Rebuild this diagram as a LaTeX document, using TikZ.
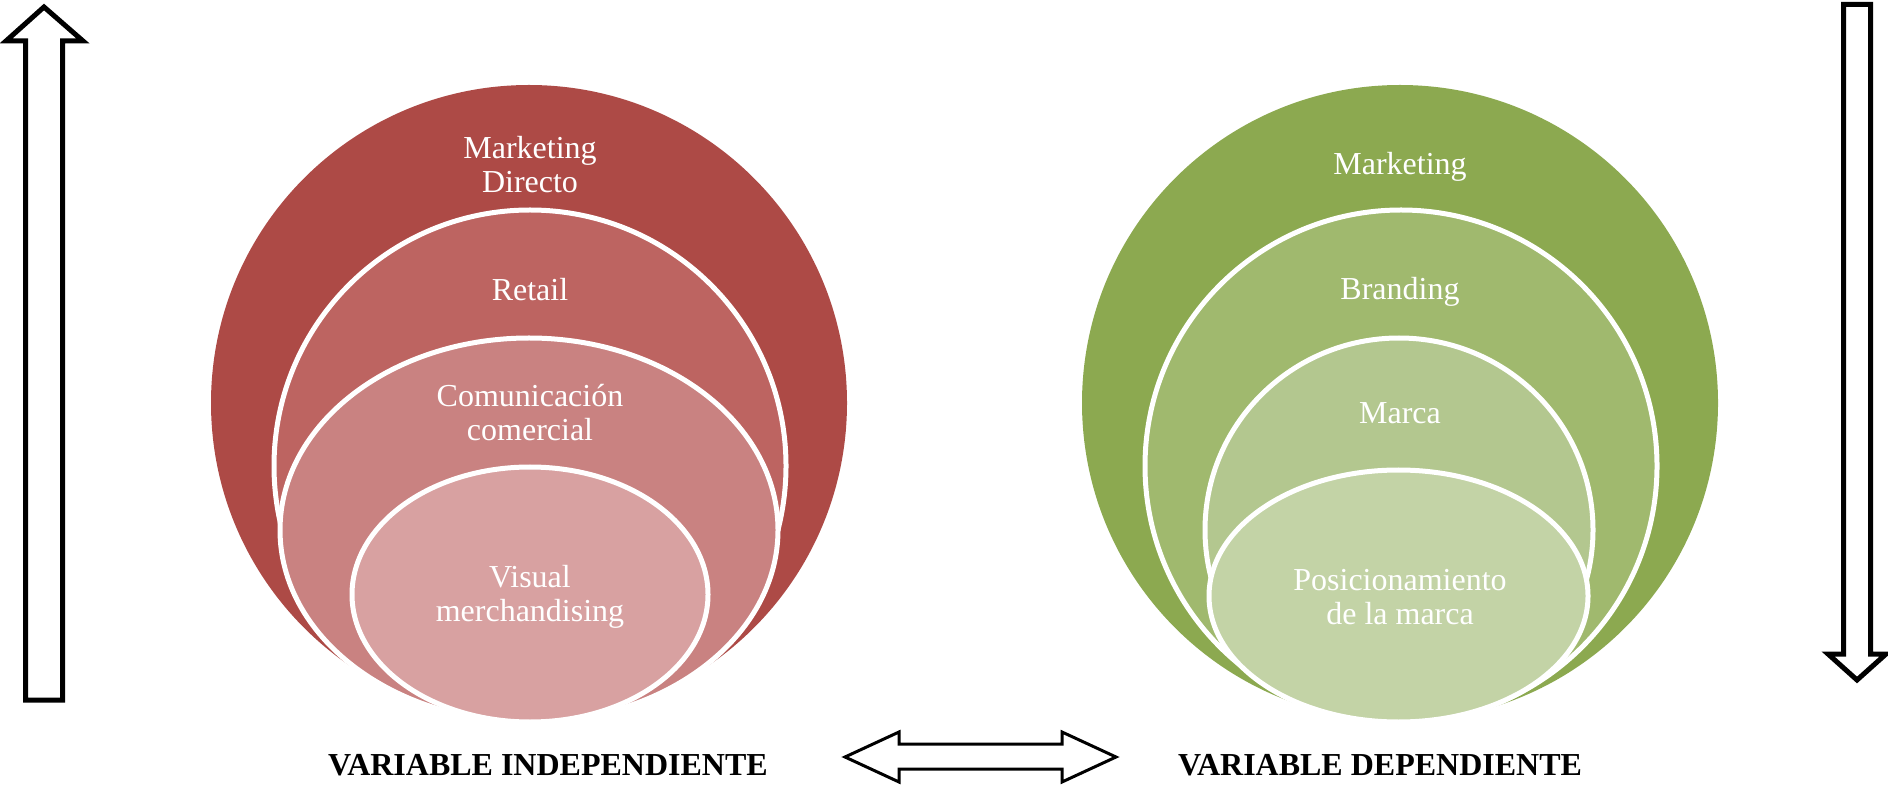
\documentclass[tikz,border=0pt]{standalone}
\usepackage{fontspec}
\setmainfont{Liberation Serif}
\definecolor{redA}{HTML}{AD4A46}
\definecolor{redB}{HTML}{BD6461}
\definecolor{redC}{HTML}{C98281}
\definecolor{redD}{HTML}{D8A1A1}
\definecolor{grnA}{HTML}{8CA950}
\definecolor{grnB}{HTML}{A0B96E}
\definecolor{grnC}{HTML}{B3C78F}
\definecolor{grnD}{HTML}{C3D3A6}
\tikzset{
  ring/.style={draw=white, line width=2.5pt},
  lbl/.style={text=white, align=center, font=\fontsize{16}{17}\selectfont},
  varlbl/.style={text=black, anchor=base, font=\fontsize{16}{17}\selectfont\bfseries},
  bigarrow/.style={draw=black, line width=2.5pt, fill=white, line join=miter},
  dblarrow/.style={draw=black, line width=1.5pt, fill=white, line join=miter}
}
\begin{document}
\begin{tikzpicture}[x=0.5pt,y=-0.5pt]
\useasboundingbox (0,0) rectangle (1888,785);
% left group
\fill[redA] (529,403) circle [radius=159pt];
\filldraw[ring, fill=redB] (530,466) circle [radius=128pt];
\filldraw[ring, fill=redC] (529,530) ellipse [x radius=124.5pt, y radius=96pt];
\filldraw[ring, fill=redD] (530,594.5) ellipse [x radius=89pt, y radius=63.75pt];
\node[lbl] (md) at (530,165) {Marketing\\Directo};
\node[lbl] (rt) at (530,290) {Retail};
\node[lbl] (cc) at (530,413) {Comunicación\\comercial};
\node[lbl] (vm) at (530,597) {Visual\\merchandising};
% right group
\fill[grnA] (1400,403) circle [radius=159pt];
\filldraw[ring, fill=grnB] (1401,466) circle [radius=128pt];
\filldraw[ring, fill=grnC] (1399,530) ellipse [x radius=97pt, y radius=96pt];
\filldraw[ring, fill=grnD] (1398.5,596) ellipse [x radius=94.75pt, y radius=63pt];
\node[lbl] (mk) at (1400,167) {Marketing};
\node[lbl] (br) at (1400,292) {Branding};
\node[lbl] (ma) at (1400,413) {Marca};
\node[lbl] (pm) at (1400,597) {Posicionamiento\\de la marca};
% labels
\node[varlbl] (vi) at (548,775) {VARIABLE INDEPENDIENTE};
\node[varlbl] (vd) at (1380,775) {VARIABLE DEPENDIENTE};
% arrows
\draw[bigarrow] (44,7) -- (6,41) -- (25.5,41) -- (25.5,700) -- (62.5,700) -- (62.5,41) -- (83,41) -- cycle;
\draw[bigarrow] (1857,680) -- (1828,654) -- (1843.5,654) -- (1843.5,4.5) -- (1870.5,4.5) -- (1870.5,654) -- (1886,654) -- cycle;
\draw[dblarrow] (845,757) -- (899,732) -- (899,744) -- (1062,744) -- (1062,732) -- (1116,757) -- (1062,782) -- (1062,769) -- (899,769) -- (899,782) -- cycle;
\end{tikzpicture}
\end{document}
